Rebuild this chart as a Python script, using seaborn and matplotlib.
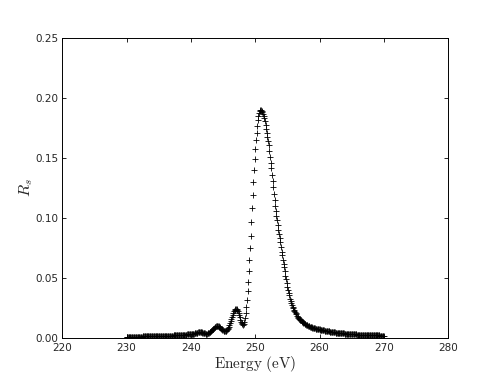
import numpy as np
import pandas as pd
import matplotlib
matplotlib.use("Agg")
import matplotlib.pyplot as plt
import seaborn as sns

# energy grid of the scan (eV), 0.1 eV steps
e_start, e_stop, e_step = 230.0, 270.0, 0.1

# R_s, one row per eV (x.0 ... x.9)
rs_230_239 = [
    0.0010, 0.0010, 0.0011, 0.0011, 0.0011, 0.0011, 0.0012, 0.0012, 0.0012, 0.0012,
    0.0012, 0.0013, 0.0013, 0.0013, 0.0013, 0.0014, 0.0014, 0.0014, 0.0014, 0.0014,
    0.0015, 0.0015, 0.0015, 0.0015, 0.0015, 0.0016, 0.0016, 0.0016, 0.0016, 0.0016,
    0.0016, 0.0016, 0.0016, 0.0017, 0.0017, 0.0017, 0.0017, 0.0017, 0.0017, 0.0017,
    0.0017, 0.0017, 0.0018, 0.0018, 0.0018, 0.0018, 0.0018, 0.0019, 0.0019, 0.0019,
    0.0019, 0.0019, 0.0019, 0.0020, 0.0020, 0.0020, 0.0020, 0.0021, 0.0021, 0.0021,
    0.0021, 0.0021, 0.0022, 0.0022, 0.0022, 0.0022, 0.0023, 0.0023, 0.0023, 0.0023,
    0.0024, 0.0024, 0.0024, 0.0025, 0.0025, 0.0025, 0.0026, 0.0026, 0.0026, 0.0027,
    0.0027, 0.0027, 0.0028, 0.0028, 0.0028, 0.0029, 0.0029, 0.0030, 0.0030, 0.0031,
    0.0031, 0.0031, 0.0032, 0.0032, 0.0033, 0.0033, 0.0034, 0.0034, 0.0035, 0.0035,
]
rs_240_249 = [
    0.0035, 0.0036, 0.0037, 0.0038, 0.0039, 0.0040, 0.0042, 0.0044, 0.0046, 0.0048,
    0.0049, 0.0050, 0.0051, 0.0052, 0.0052, 0.0052, 0.0051, 0.0050, 0.0048, 0.0046,
    0.0044, 0.0042, 0.0041, 0.0040, 0.0040, 0.0040, 0.0041, 0.0043, 0.0046, 0.0050,
    0.0054, 0.0059, 0.0064, 0.0070, 0.0076, 0.0082, 0.0088, 0.0093, 0.0097, 0.0100,
    0.0102, 0.0102, 0.0101, 0.0099, 0.0096, 0.0092, 0.0087, 0.0081, 0.0075, 0.0070,
    0.0066, 0.0063, 0.0061, 0.0060, 0.0061, 0.0064, 0.0069, 0.0076, 0.0085, 0.0096,
    0.0109, 0.0124, 0.0141, 0.0159, 0.0177, 0.0195, 0.0211, 0.0225, 0.0236, 0.0243,
    0.0246, 0.0244, 0.0237, 0.0226, 0.0211, 0.0193, 0.0174, 0.0156, 0.0140, 0.0127,
    0.0119, 0.0115, 0.0120, 0.0140, 0.0170, 0.0210, 0.0260, 0.0320, 0.0390, 0.0470,
    0.0560, 0.0650, 0.0750, 0.0850, 0.0970, 0.1080, 0.1190, 0.1300, 0.1400, 0.1490,
]
rs_250_259 = [
    0.1570, 0.1650, 0.1710, 0.1765, 0.1815, 0.1850, 0.1875, 0.1890, 0.1895, 0.1895,
    0.1890, 0.1880, 0.1865, 0.1850, 0.1830, 0.1810, 0.1775, 0.1740, 0.1710, 0.1670,
    0.1640, 0.1605, 0.1560, 0.1510, 0.1460, 0.1420, 0.1360, 0.1310, 0.1260, 0.1200,
    0.1150, 0.1100, 0.1060, 0.1020, 0.0980, 0.0940, 0.0900, 0.0865, 0.0835, 0.0800,
    0.0760, 0.0720, 0.0690, 0.0650, 0.0620, 0.0590, 0.0560, 0.0520, 0.0490, 0.0460,
    0.0430, 0.0400, 0.0380, 0.0360, 0.0330, 0.0310, 0.0295, 0.0280, 0.0262, 0.0250,
    0.0240, 0.0230, 0.0220, 0.0210, 0.0200, 0.0190, 0.0180, 0.0172, 0.0165, 0.0160,
    0.0155, 0.0150, 0.0145, 0.0140, 0.0135, 0.0130, 0.0126, 0.0122, 0.0118, 0.0114,
    0.0111, 0.0108, 0.0105, 0.0103, 0.0100, 0.0098, 0.0096, 0.0094, 0.0092, 0.0090,
    0.0088, 0.0087, 0.0085, 0.0084, 0.0082, 0.0081, 0.0080, 0.0078, 0.0077, 0.0076,
]
rs_260_270 = [
    0.0075, 0.0073, 0.0072, 0.0071, 0.0070, 0.0069, 0.0068, 0.0067, 0.0065, 0.0064,
    0.0063, 0.0062, 0.0061, 0.0060, 0.0059, 0.0058, 0.0057, 0.0056, 0.0055, 0.0054,
    0.0053, 0.0052, 0.0051, 0.0050, 0.0050, 0.0049, 0.0048, 0.0047, 0.0047, 0.0046,
    0.0045, 0.0045, 0.0044, 0.0043, 0.0043, 0.0042, 0.0042, 0.0041, 0.0041, 0.0040,
    0.0040, 0.0039, 0.0039, 0.0038, 0.0038, 0.0037, 0.0037, 0.0036, 0.0036, 0.0036,
    0.0035, 0.0035, 0.0034, 0.0034, 0.0034, 0.0033, 0.0033, 0.0033, 0.0032, 0.0032,
    0.0032, 0.0031, 0.0031, 0.0031, 0.0031, 0.0030, 0.0030, 0.0030, 0.0030, 0.0029,
    0.0029, 0.0029, 0.0029, 0.0028, 0.0028, 0.0028, 0.0028, 0.0028, 0.0027, 0.0027,
    0.0027, 0.0027, 0.0027, 0.0026, 0.0026, 0.0026, 0.0026, 0.0026, 0.0025, 0.0025,
    0.0025, 0.0025, 0.0025, 0.0025, 0.0024, 0.0024, 0.0024, 0.0024, 0.0024, 0.0024,
    0.0023,
]

x_ticks = [220, 230, 240, 250, 260, 270, 280]
y_ticks = [0.00, 0.05, 0.10, 0.15, 0.20, 0.25]

rs = rs_230_239 + rs_240_249 + rs_250_259 + rs_260_270
n = int(round((e_stop - e_start) / e_step)) + 1
energy = np.round(e_start + e_step * np.arange(n), 1)
df = pd.DataFrame({"energy": energy, "rs": rs})

sns.set_style("ticks")
plt.rcParams["font.family"] = ["DejaVu Sans"]
plt.rcParams["mathtext.fontset"] = "cm"

fig, ax = plt.subplots(figsize=(4.98, 3.76), dpi=100)
fig.subplots_adjust(left=0.125, right=0.9, bottom=0.1, top=0.9)

sns.scatterplot(data=df, x="energy", y="rs", marker="+", color="black",
                s=16, linewidth=0.6, ax=ax, legend=False)

ax.set_xlim(220, 280)
ax.set_ylim(0, 0.25)
ax.set_xticks(x_ticks)
ax.set_yticks(y_ticks)
ax.set_yticklabels([f"{v:.2f}" for v in y_ticks])
ax.tick_params(direction="in", top=True, right=True, length=3, width=0.6,
               labelsize=7.5, pad=3, color="black")
for sp in ax.spines.values():
    sp.set_color("black")
    sp.set_linewidth(0.7)

ax.set_xlabel(r"$\mathrm{Energy\ (eV)}$", fontsize=11, labelpad=1)
ax.set_ylabel(r"$R_s$", fontsize=11.5, labelpad=0)

fig.savefig("out.png", dpi=100)
